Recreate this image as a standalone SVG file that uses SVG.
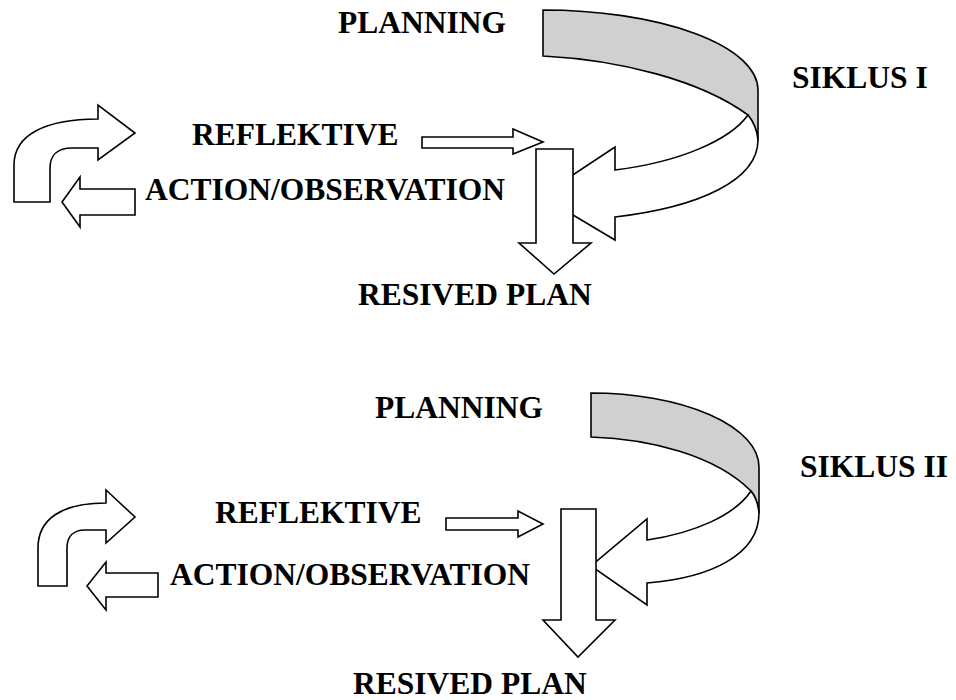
<svg xmlns="http://www.w3.org/2000/svg" width="956" height="700" viewBox="0 0 956 700">
<style>
.s{stroke:#000;stroke-width:1.6;stroke-linejoin:miter;fill:#fff}
.g{fill:#d0d0d0}
.t{font-family:"Liberation Serif","Times New Roman",serif;font-weight:bold;font-size:31.5px;fill:#000}
</style>
<rect width="956" height="700" fill="#fff"/>
<g id="cycle1">
  <g id="c1-curved">
    <path class="s g" d="M543,10 A215,80 0 0 1 758,90 L758,140 C757,128 752,120 748,115 C700,80 620,60 543,56 Z"/>
    <path class="s" d="M748,115 C730,140 680,162 615,170 L615,147 L541,196 L615,240 L615,217 C700,207 758,180 758,140 C757,128 752,120 748,115 Z"/>
  </g>
  <g id="c1-down">
    <path class="s" d="M536,149 L573,149 L573,243 L591,243 L554,274 L519,243 L536,243 Z"/>
  </g>
  <g id="c1-right">
    <path class="s" d="M422,137 L513,137 L513,129 L543,142 L513,154 L513,148 L422,148 Z"/>
  </g>
  <g id="c1-bent">
    <path class="s" d="M14,202 L14,165 C14,135 45,119 98,119 L98,105 L135,133 L98,160 L98,148 L72,148 C58,148 50,155 50,168 L50,202 Z"/>
  </g>
  <g id="c1-left">
    <path class="s" d="M135,189 L80,189 L80,177 L62,202 L80,227 L80,215 L135,215 Z"/>
  </g>
  <text class="t" x="338" y="33">PLANNING</text>
  <text class="t" x="792" y="88">SIKLUS I</text>
  <text class="t" x="192" y="145">REFLEKTIVE</text>
  <text class="t" x="145" y="200">ACTION/OBSERVATION</text>
  <text class="t" x="358" y="305">RESIVED PLAN</text>
</g>
<g id="cycle2">
  <g id="c2-curved">
    <path class="s g" d="M591,393 A168,74 0 0 1 759,467 L759,513 C758,503 755,496 751,491 C715,455 650,439 591,437 Z"/>
    <path class="s" d="M751,491 C735,515 695,533 647,540 L647,519 L591,566 L647,605 L647,583 C710,578 759,555 759,513 C758,503 755,496 751,491 Z"/>
  </g>
  <g id="c2-down">
    <path class="s" d="M561,509 L596,509 L596,620 L615,620 L578,657 L543,620 L561,620 Z"/>
  </g>
  <g id="c2-right">
    <path class="s" d="M446,518 L518,518 L518,511 L543,524 L518,537 L518,530 L446,530 Z"/>
  </g>
  <g id="c2-bent">
    <path class="s" d="M38,586 L38,548 C38,520 60,503 106,503 L106,490 L135,517 L106,543 L106,530 L85,530 C73,530 67,537 67,548 L67,586 Z"/>
  </g>
  <g id="c2-left">
    <path class="s" d="M158,573 L106,573 L106,562 L87,586 L106,610 L106,597 L158,597 Z"/>
  </g>
  <text class="t" x="375" y="418">PLANNING</text>
  <text class="t" x="800" y="477">SIKLUS II</text>
  <text class="t" x="215" y="523">REFLEKTIVE</text>
  <text class="t" x="170" y="585">ACTION/OBSERVATION</text>
  <text class="t" x="353" y="694">RESIVED PLAN</text>
</g>
<g id="connectors"></g>
</svg>
